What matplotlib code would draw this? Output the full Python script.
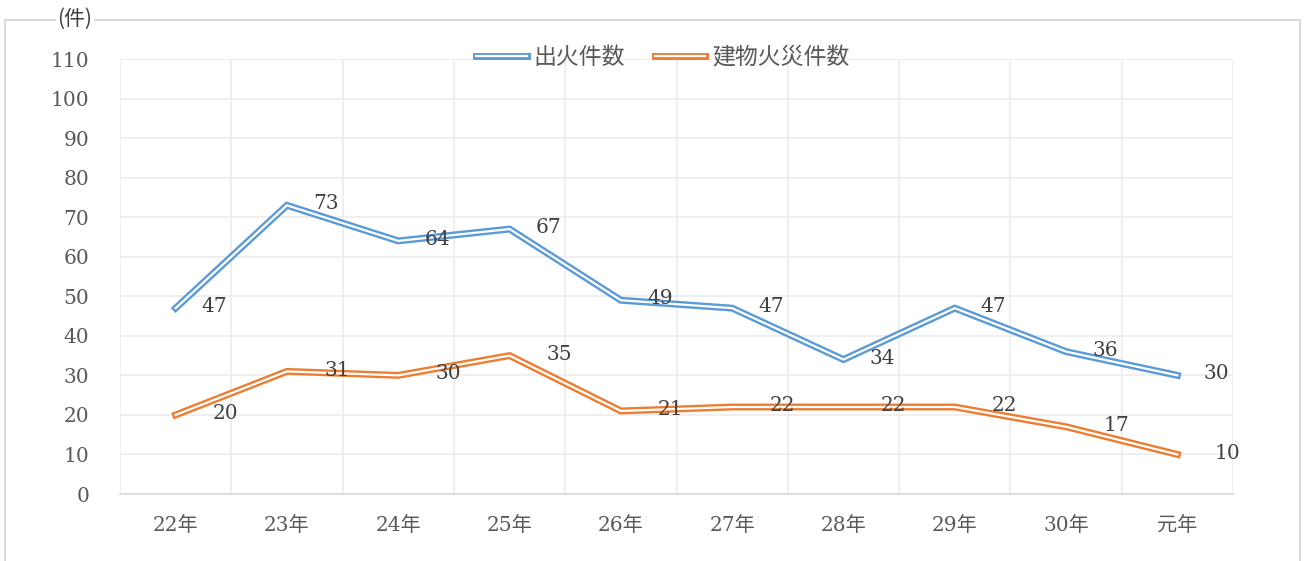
import matplotlib.pyplot as plt
import numpy as np
from matplotlib.patches import Rectangle
from matplotlib.lines import Line2D

plt.rcParams['font.family'] = ['DejaVu Serif', 'Noto Sans CJK JP']

years = ["22年", "23年", "24年", "25年", "26年", "27年", "28年", "29年", "30年", "元年"]
fires = [47, 73, 64, 67, 49, 47, 34, 47, 36, 30]
building_fires = [20, 31, 30, 35, 21, 22, 22, 22, 17, 10]

blue = "#5B9BD5"
orange = "#ED7D31"
tick_color = "#595959"
LW, WLW = 5.0, 1.6

fig = plt.figure(figsize=(13.08, 5.61), dpi=100)
ax = fig.add_axes([120 / 1308, 1 - 494 / 561, 1113 / 1308, 435 / 561])

x = np.arange(len(years))

# double line: thick coloured line with thin white core
for vals, col in [(fires, blue), (building_fires, orange)]:
    ax.plot(x, vals, color=col, lw=LW, solid_joinstyle="miter")
    ax.plot(x, vals, color="white", lw=WLW, solid_joinstyle="miter")

for xi, v in zip(x, fires):
    ax.annotate(str(v), (xi, v), xytext=(28, 1), textcoords="offset points",
                ha="center", va="center", fontsize=14.5, color="#404040")
for xi, v in zip(x, building_fires):
    ax.annotate(str(v), (xi, v), xytext=(36, 1), textcoords="offset points",
                ha="center", va="center", fontsize=14.5, color="#404040")

ax.set_xlim(-0.5, len(years) - 0.5)
ax.set_ylim(0, 110)
ax.set_yticks(np.arange(0, 111, 10))
ax.set_xticks(x)
ax.set_xticklabels(years)
ax.set_xticks(np.arange(-0.5, len(years), 1), minor=True)
ax.grid(True, which="major", axis="y", color="#ececec", lw=1.2)
ax.grid(True, which="minor", axis="x", color="#ececec", lw=1.2)
ax.set_axisbelow(True)
ax.tick_params(which="both", length=0)
ax.tick_params(axis="y", pad=22, labelsize=14.5, labelcolor=tick_color)
ax.tick_params(axis="x", pad=16, labelsize=14.5, labelcolor=tick_color)
for s in ["top", "right", "left"]:
    ax.spines[s].set_visible(False)
ax.spines["bottom"].set_color("#d9d9d9")
ax.spines["bottom"].set_linewidth(1.2)

# legend with white-core line handles
h = [Line2D([], [], color=blue, lw=LW), Line2D([], [], color=orange, lw=LW)]
w = [Line2D([], [], color="white", lw=WLW), Line2D([], [], color="white", lw=WLW)]
leg = ax.legend([(h[0], w[0]), (h[1], w[1])], ["出火件数", "建物火災件数"],
                loc="center", ncol=2,
                frameon=False, handlelength=2.2, columnspacing=1.3, handletextpad=0.3,
                prop={"family": ["Noto Sans CJK JP"], "size": 16.5})
leg.set_bbox_to_anchor((663 / 1308, 1 - 58 / 561), transform=fig.transFigure)
for t in leg.get_texts():
    t.set_color(tick_color)

# outer chart border
fig.patches.append(Rectangle((5 / 1308, -0.05), 1295 / 1308, 1.05 - 20 / 561,
                             transform=fig.transFigure, fill=False,
                             edgecolor="#d9d9d9", lw=1.5))
fig.text(75 / 1308, 1 - 19 / 561, "(件)", ha="center", va="center", fontsize=15,
         color="#404040", family=["Noto Sans CJK JP"],
         bbox=dict(facecolor="white", edgecolor="none", pad=1))

fig.savefig("out.png", dpi=100)
